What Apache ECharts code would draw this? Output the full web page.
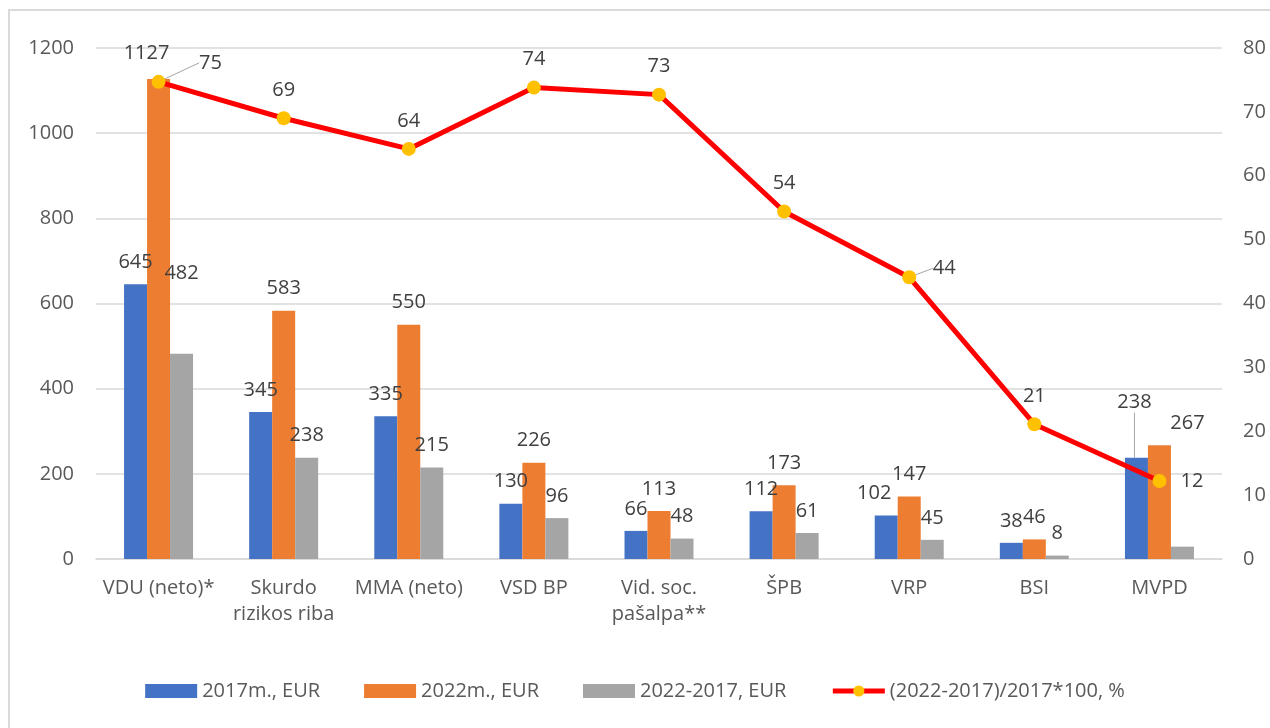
<!DOCTYPE html>
<html>
<head>
<meta charset="utf-8">
<script src="https://cdn.jsdelivr.net/npm/echarts@6/dist/echarts.min.js"></script>
<style>
  html, body { margin: 0; padding: 0; background: #fff; }
  #chart { width: 1270px; height: 728px; }
</style>
</head>
<body>
<div id="chart"></div>
<script>
var categories = ['VDU (neto)*', 'Skurdo\nrizikos riba', 'MMA (neto)', 'VSD BP', 'Vid. soc.\npašalpa**', 'ŠPB', 'VRP', 'BSI', 'MVPD'];
var eur2017 = [645, 345, 335, 130, 66, 112, 102, 38, 238];
var eur2022 = [1127, 583, 550, 226, 113, 173, 147, 46, 267];
var eurDiff = [482, 238, 215, 96, 48, 61, 45, 8, 29];
var pctChange = [74.7, 69.0, 64.2, 73.8, 72.7, 54.4, 44.1, 21.1, 12.2];
var leftTicks = { min: 0, max: 1200, interval: 200 };
var rightTicks = { min: 0, max: 80, interval: 10 };

// label nudges (Excel moved these to avoid overlaps)
var shift2017 = { 6: [-12, 0], 8: [-2, -33] };
var shift2022 = { 0: [-12, -4], 8: [28, 0] };
var shiftDiff = { 0: [0, -58] };
var shiftPct = { 0: [52, 9], 6: [35, 19] };
// which labels get a leader line
var leader2017 = [8];
var leaderPct = [0, 6];

var chart = echarts.init(document.getElementById('chart'));

var font = "'Open Sans', 'DejaVu Sans', sans-serif";
var labelColor = '#404040';
var axisColor = '#595959';
var fs = 20;

function layoutFrom(map) {
  return function (p) {
    var s = map[p.dataIndex];
    return s ? { dx: s[0], dy: s[1] } : {};
  };
}

function barSeries(name, data, color, shifts, leaders, hidden) {
  return {
    name: name,
    type: 'bar',
    barWidth: 23,
    barGap: '0%',
    data: data.map(function (v, i) {
      var item = { value: v, labelLine: { show: leaders.indexOf(i) >= 0 } };
      if (hidden.indexOf(i) >= 0) item.label = { show: false };
      return item;
    }),
    itemStyle: { color: color },
    label: {
      show: true,
      position: 'top',
      distance: 12,
      color: labelColor,
      fontSize: fs,
      fontFamily: font
    },
    labelLayout: layoutFrom(shifts),
    labelLine: { show: false, lineStyle: { color: '#A6A6A6', width: 1 } },
    z: 2
  };
}

var option = {
  backgroundColor: '#fff',
  animation: false,
  textStyle: { fontFamily: font },
  graphic: [{
    type: 'rect',
    shape: { x: 9, y: 10, width: 1300, height: 760 },
    style: { fill: 'none', stroke: '#D9D9D9', lineWidth: 2 },
    silent: true
  }],
  grid: { left: 96, right: 48, top: 48, bottom: 169 },
  legend: {
    bottom: 22,
    left: 'center',
    itemGap: 44,
    itemWidth: 52,
    itemHeight: 14,
    textStyle: { color: axisColor, fontSize: fs, fontFamily: font },
    data: [
      { name: '2017m., EUR', icon: 'rect' },
      { name: '2022m., EUR', icon: 'rect' },
      { name: '2022-2017, EUR', icon: 'rect' },
      {
        name: '(2022-2017)/2017*100, %',
        lineStyle: { width: 5, color: '#FF0000' },
        itemStyle: { color: '#FFC000' }
      }
    ]
  },
  xAxis: {
    type: 'category',
    data: categories,
    axisTick: { show: false },
    axisLine: { lineStyle: { color: '#D9D9D9', width: 1.5 } },
    axisLabel: {
      color: axisColor,
      fontSize: fs,
      fontFamily: font,
      margin: 16,
      lineHeight: 26,
      interval: 0
    }
  },
  yAxis: [
    {
      type: 'value',
      min: leftTicks.min,
      max: leftTicks.max,
      interval: leftTicks.interval,
      axisLine: { show: false },
      axisTick: { show: false },
      splitLine: { lineStyle: { color: '#D9D9D9', width: 1.5 } },
      axisLabel: {
        color: axisColor, fontSize: fs, fontFamily: font, margin: 22,
        formatter: function (v) { return String(v); }
      }
    },
    {
      type: 'value',
      min: rightTicks.min,
      max: rightTicks.max,
      interval: rightTicks.interval,
      axisLine: { show: false },
      axisTick: { show: false },
      splitLine: { show: false },
      axisLabel: { color: axisColor, fontSize: fs, fontFamily: font, margin: 21 }
    }
  ],
  series: [
    barSeries('2017m., EUR', eur2017, '#4472C4', shift2017, leader2017, []),
    barSeries('2022m., EUR', eur2022, '#ED7D31', shift2022, [], []),
    // the MVPD difference bar carries no label in the original
    barSeries('2022-2017, EUR', eurDiff, '#A5A5A5', shiftDiff, [], [8]),
    {
      name: '(2022-2017)/2017*100, %',
      type: 'line',
      yAxisIndex: 1,
      data: pctChange.map(function (v, i) {
        var item = { value: v, labelLine: { show: leaderPct.indexOf(i) >= 0 } };
        if (i === 8) item.label = { position: 'right', distance: 14 };
        return item;
      }),
      symbol: 'circle',
      symbolSize: 14,
      lineStyle: { color: '#FF0000', width: 5 },
      itemStyle: { color: '#FFC000', borderWidth: 0 },
      label: {
        show: true,
        position: 'top',
        distance: 11,
        color: labelColor,
        fontSize: fs,
        fontFamily: font,
        formatter: function (p) { return Math.round(p.value); }
      },
      labelLayout: layoutFrom(shiftPct),
      labelLine: { show: false, lineStyle: { color: '#A6A6A6', width: 1 } },
      z: 5
    }
  ]
};

chart.setOption(option);
</script>
</body>
</html>
